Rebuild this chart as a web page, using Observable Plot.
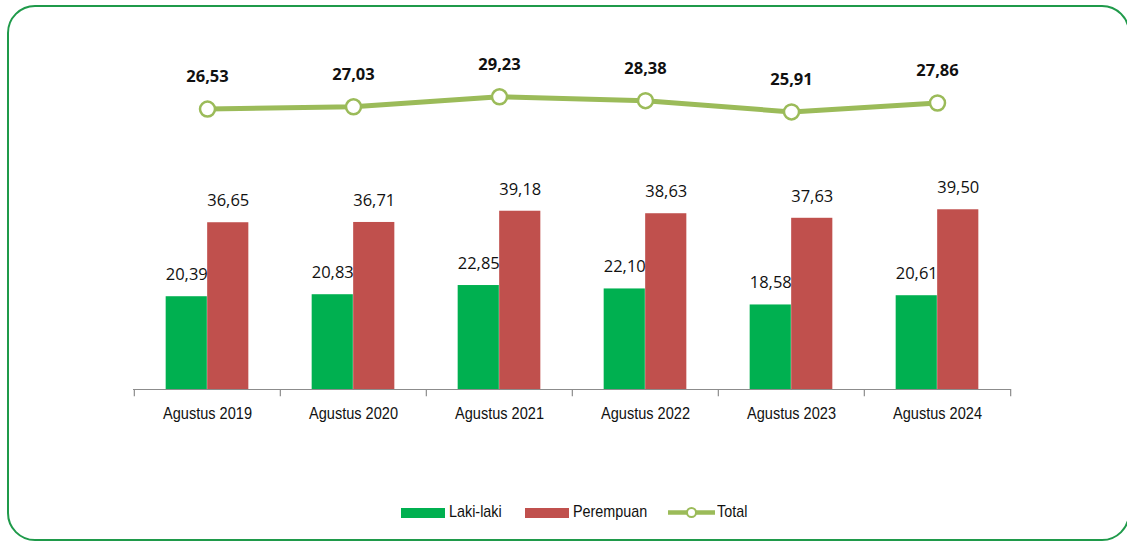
<!DOCTYPE html>
<html>
<head>
<meta charset="utf-8">
<script src="https://cdn.jsdelivr.net/npm/d3@7"></script>
<script src="https://cdn.jsdelivr.net/npm/@observablehq/plot@0.6"></script>
<style>
  html, body { margin: 0; padding: 0; background: #fff; }
  #wrap { position: relative; width: 1127px; height: 541px; overflow: hidden; }
  #frame { position: absolute; left: 7px; top: 4.5px; width: 1123px; height: 536px;
           border: 2.5px solid #1F9A4A; border-radius: 28px; box-sizing: border-box; }
  #chart { position: absolute; left: 0; top: 0; }
  #legend { position: absolute; left: 0; top: 502px; width: 1127px; height: 20px;
            font-family: "Liberation Sans", Arial, sans-serif;
            font-size: 17px; color: #111; }
  .item { position: absolute; top: 0; height: 20px; line-height: 20px; white-space: nowrap;
          transform: scaleX(0.845); transform-origin: 0 50%; }
  .sw { position: absolute; top: 5.5px; height: 10px; }
</style>
</head>
<body>
<div id="wrap">
  <div id="chart"></div>
  <div id="frame"></div>
  <div id="legend"></div>
</div>
<script>
// ---- data ----
const years = ["Agustus 2019", "Agustus 2020", "Agustus 2021", "Agustus 2022", "Agustus 2023", "Agustus 2024"];
const lakiLaki = [20.39, 20.83, 22.85, 22.10, 18.58, 20.61];
const perempuan = [36.65, 36.71, 39.18, 38.63, 37.63, 39.50];
const total = [26.53, 27.03, 29.23, 28.38, 25.91, 27.86];
const seriesNames = ["Laki-laki", "Perempuan", "Total"];
const colors = ["#00B050", "#C0504D", "#9BBB59"];

// the Total line sits on a secondary axis, shifted up relative to the bars
const totalAxisOffset = 35.1;

const fmt = v => v.toFixed(2).replace(".", ",");
const rowsL = years.map((y, i) => ({year: y, value: lakiLaki[i]}));
const rowsP = years.map((y, i) => ({year: y, value: perempuan[i]}));
const rowsT = years.map((y, i) => ({year: y, value: total[i], shifted: total[i] + totalAxisOffset}));

const W = 1127, H = 541, ML = 133, MR = 116;
const band = (W - ML - MR) / years.length;
const half = band / 2;
const barW = 41.5;

const chart = Plot.plot({
  width: W, height: H,
  marginLeft: ML, marginRight: MR, marginTop: 25, marginBottom: 152,
  style: {fontFamily: "'Liberation Sans', Arial, sans-serif", background: "transparent"},
  x: {type: "band", domain: years, padding: 0, label: null},
  y: {domain: [0, 80], axis: null},
  marks: [
    Plot.barY(rowsL, {x: "year", y: "value", fill: colors[0], insetLeft: half - barW, insetRight: half}),
    Plot.barY(rowsP, {x: "year", y: "value", fill: colors[1], insetLeft: half, insetRight: half - barW}),
    Plot.ruleY([0], {stroke: "#8c8c8c", strokeWidth: 1.2}),
    Plot.ruleX(years, {x: d => d, dx: -half, y1: 0, y2: -1.6, stroke: "#8c8c8c", strokeWidth: 1.2}),
    Plot.ruleX(years.slice(-1), {x: d => d, dx: half, y1: 0, y2: -1.6, stroke: "#8c8c8c", strokeWidth: 1.2}),
    Plot.axisX({tickSize: 0, tickPadding: 17, fontSize: 17, fill: "#111"}),
    Plot.text(rowsL, {x: "year", y: "value", text: d => fmt(d.value), dx: -barW / 2, dy: -22,
      fontSize: 16.5, fill: "#111", fontFamily: "'Open Sans', sans-serif"}),
    Plot.text(rowsP, {x: "year", y: "value", text: d => fmt(d.value), dx: barW / 2, dy: -22,
      fontSize: 16.5, fill: "#111", fontFamily: "'Open Sans', sans-serif"}),
    Plot.line(rowsT, {x: "year", y: "shifted", stroke: colors[2], strokeWidth: 5}),
    Plot.dot(rowsT, {x: "year", y: "shifted", r: 7.5, fill: "white", stroke: colors[2], strokeWidth: 2.5}),
    Plot.text(rowsT, {x: "year", y: "shifted", text: d => fmt(d.value), dy: -32,
      fontSize: 16.5, fontWeight: "bold", fill: "#111", fontFamily: "'Open Sans', sans-serif"})
  ]
});
document.getElementById("chart").appendChild(chart);
// condense the category labels (the original uses a narrow sans face)
chart.querySelectorAll('g[aria-label="x-axis tick label"] text').forEach(t => {
  const w = t.getComputedTextLength();
  t.setAttribute("textLength", (w * 0.855).toFixed(1));
  t.setAttribute("lengthAdjust", "spacingAndGlyphs");
});

// ---- legend ----
const legend = document.getElementById("legend");
const items = [
  {name: seriesNames[0], color: colors[0], kind: "bar", sx: 401, tx: 449},
  {name: seriesNames[1], color: colors[1], kind: "bar", sx: 525, tx: 573},
  {name: seriesNames[2], color: colors[2], kind: "line", sx: 668, tx: 717}
];
for (const it of items) {
  if (it.kind === "bar") {
    const s = document.createElement("div");
    s.className = "sw";
    s.style.left = it.sx + "px"; s.style.width = "44px"; s.style.background = it.color;
    legend.appendChild(s);
  } else {
    const svg = document.createElementNS("http://www.w3.org/2000/svg", "svg");
    svg.setAttribute("width", 50); svg.setAttribute("height", 21);
    svg.style.position = "absolute"; svg.style.left = it.sx + "px"; svg.style.top = "0px";
    svg.innerHTML = `<line x1="0" x2="47" y1="10.5" y2="10.5" stroke="${it.color}" stroke-width="4.5"/>
      <circle cx="23.5" cy="10.5" r="4.5" fill="white" stroke="${it.color}" stroke-width="2"/>`;
    legend.appendChild(svg);
  }
  const t = document.createElement("div");
  t.className = "item";
  t.style.left = it.tx + "px";
  t.textContent = it.name;
  legend.appendChild(t);
}
</script>
</body>
</html>
